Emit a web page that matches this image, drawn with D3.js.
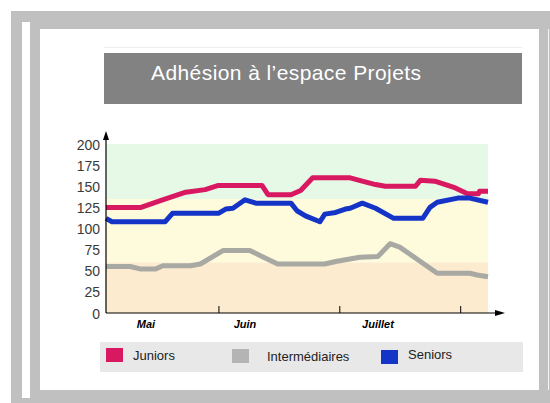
<!DOCTYPE html>
<html>
<head>
<meta charset="utf-8">
<script src="https://cdn.jsdelivr.net/npm/d3@7"></script>
<style>
  body { margin: 0; background: #fff; }
  svg { display: block; font-family: "Liberation Sans", Arial, sans-serif; }
</style>
</head>
<body>
<div id="container"></div>
<script>

// x values are in "month" units: 1 = 1er juin, 2 = 1er juillet, 3 = 1er aout
var monthNames = ["Mai", "Juin", "Juillet"];
var monthLabelAt = [0.40, 1.22, 2.32];
var monthTicks = [1, 2, 3];
var yTicks = [0, 25, 50, 75, 100, 125, 150, 175, 200];

var juniors = [[0.07,125],[0.36,125],[0.52,133],[0.73,143],[0.89,146],[1.0,151],[1.36,151],[1.41,140],
    [1.6,140],[1.68,145],[1.78,160],[2.09,160],[2.19,156],[2.3,152],[2.38,150],[2.63,150],[2.67,157],
    [2.79,156],[2.96,148],[3.06,141],[3.15,141],[3.16,144],[3.23,144]];
var intermediaires = [[0.07,55],[0.27,55],[0.36,52],[0.48,52],[0.54,56],[0.77,56],[0.85,58],[1.04,74],
    [1.26,74],[1.36,67],[1.49,58],[1.88,58],[1.97,61],[2.17,66],[2.32,67],[2.42,82],[2.5,78],[2.81,47],
    [3.08,47],[3.14,45],[3.23,43]];
var seniors = [[0.07,112],[0.12,108],[0.56,108],[0.62,118],[1.0,118],[1.06,123],[1.12,124],[1.22,134],
    [1.31,130],[1.6,130],[1.65,121],[1.72,115],[1.84,108],[1.88,117],[1.97,119],[2.05,123],[2.09,124],
    [2.19,130],[2.3,124],[2.45,112],[2.69,112],[2.75,125],[2.81,131],[2.98,136],[3.08,136],[3.23,131]];

var seriesNames = ["Juniors", "Intermédiaires", "Seniors"];
var seriesColors = ["#d81860", "#a9a9a4", "#1434c8"];

// background bands (from, to)
var bands = [[0, 60], [60, 135], [135, 200]];
var bandColors = ["#fcebcf", "#fefadc", "#e6f8e6"];

var W = 550, H = 403;

var svg = d3.select("#container").append("svg")
    .attr("width", W)
    .attr("height", H);

// frame
svg.append("rect").attr("x", 11).attr("y", 11).attr("width", W - 11).attr("height", H - 11).attr("fill", "#c0c0c0");
svg.append("rect").attr("x", 22).attr("y", 22).attr("width", 8).attr("height", 376).attr("fill", "#fff");
svg.append("rect").attr("x", 40).attr("y", 29).attr("width", 499).attr("height", 361).attr("fill", "#fff");
svg.append("rect").attr("x", 548).attr("y", 29).attr("width", 1).attr("height", 361).attr("fill", "#f4f4f4");

// title
svg.append("line").attr("x1", 104).attr("x2", 522).attr("y1", 47.5).attr("y2", 47.5)
    .attr("stroke", "#eeeeee");
svg.append("rect").attr("x", 104).attr("y", 53).attr("width", 418).attr("height", 51).attr("fill", "#828282");
svg.append("text").attr("x", 151).attr("y", 80)
    .attr("fill", "#fff")
    .style("font-size", "21px")
    .attr("textLength", 270)
    .text("Adhésion à l’espace Projets");

var x = d3.scaleLinear().domain([0.07, 3.23]).range([106, 488]);
var y = d3.scaleLinear().domain([0, 200]).range([313, 144]);

// bands
svg.selectAll("rect.band").data(bands).enter().append("rect")
    .attr("class", "band")
    .attr("x", x(0.07))
    .attr("width", x(3.23) - x(0.07))
    .attr("y", function(d){ return y(d[1]); })
    .attr("height", function(d){ return y(d[0]) - y(d[1]); })
    .attr("fill", function(d, i){ return bandColors[i]; });

// lines
var line = d3.line()
    .x(function(d){ return x(d[0]); })
    .y(function(d){ return y(d[1]); });

[juniors, intermediaires, seniors].forEach(function(s, i){
    svg.append("path")
        .datum(s)
        .attr("d", line)
        .attr("fill", "none")
        .attr("stroke", seriesColors[i])
        .attr("stroke-width", 5)
        .attr("stroke-linejoin", "round");
});

// y axis
var yAxis = d3.axisLeft(y).tickValues(yTicks).tickSize(0).tickPadding(6);
var gy = svg.append("g").attr("transform", "translate(" + x(0.07) + ",0)").call(yAxis);
gy.select(".domain").remove();
gy.selectAll("text").style("font-size", "14px").attr("fill", "#3a3a3a").attr("dy", "0.36em");
svg.append("line").attr("x1", 106).attr("x2", 106).attr("y1", 313).attr("y2", 137)
    .attr("stroke", "#000").attr("stroke-width", 1.2);
svg.append("path").attr("d", "M106,131 L103,140 L109,140 Z").attr("fill", "#000");

// x axis
var xAxis = d3.axisBottom(x).tickValues(monthTicks).tickSize(-7).tickFormat("");
var gx = svg.append("g").attr("transform", "translate(0,313)").call(xAxis);
gx.select(".domain").remove();
gx.selectAll("line").attr("stroke", "#000");
svg.append("line").attr("x1", 106).attr("x2", 498).attr("y1", 313).attr("y2", 313)
    .attr("stroke", "#000").attr("stroke-width", 1.2);
svg.append("path").attr("d", "M505,313 L495,310 L495,316 Z").attr("fill", "#000");

svg.selectAll("text.month").data(monthNames).enter().append("text")
    .attr("class", "month")
    .attr("x", function(d, i){ return x(monthLabelAt[i]); })
    .attr("y", 328)
    .attr("text-anchor", "middle")
    .style("font-size", "11px")
    .style("font-style", "italic")
    .style("font-weight", "bold")
    .text(function(d){ return d; });

// legend
svg.append("rect").attr("x", 100).attr("y", 342).attr("width", 423).attr("height", 30).attr("fill", "#e8e8e8");
var legX = [106, 232, 381];
var legY = [348, 349, 350];
var lg = svg.selectAll("g.leg").data(seriesNames).enter().append("g")
    .attr("class", "leg")
    .attr("transform", function(d, i){ return "translate(" + legX[i] + "," + legY[i] + ")"; });
lg.append("rect").attr("width", 17).attr("height", 14)
    .attr("fill", function(d, i){ return i == 1 ? "#b4b4b4" : seriesColors[i]; });
lg.append("text")
    .attr("x", function(d, i){ return [27, 35, 27][i]; })
    .attr("y", function(d, i){ return i == 2 ? 9 : 12; })
    .style("font-size", "13px")
    .attr("fill", "#222")
    .text(function(d){ return d; });

</script>
</body>
</html>
